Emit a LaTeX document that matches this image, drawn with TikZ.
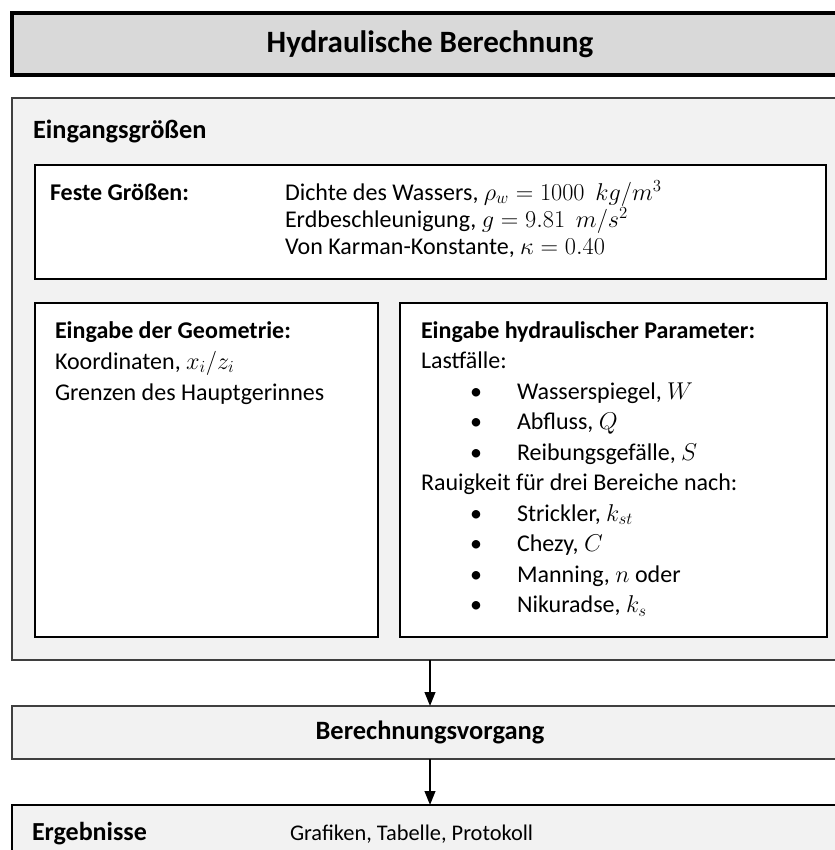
\documentclass[tikz,border=0pt]{standalone}
\usepackage{fontspec}
\setmainfont{Carlito}
\usetikzlibrary{arrows.meta}
\definecolor{titlegray}{HTML}{D9D9D9}
\definecolor{panelgray}{HTML}{F2F2F2}
\definecolor{framegray}{HTML}{3F3F3F}

\begin{document}
\begin{tikzpicture}[x=0.3mm, y=-0.3mm,
  every node/.style={font=\fontsize{20.5}{24}\selectfont, inner sep=0pt, outer sep=0pt},
  box/.style={rectangle, draw=black, line width=1.5pt, fill=white},
  panel/.style={rectangle, draw=framegray, line width=1.4pt, fill=panelgray},
  head/.style={font=\fontsize{20.5}{24}\selectfont\bfseries, anchor=base west},
  txt/.style={anchor=base west},
  arr/.style={line width=1.8pt, -{Triangle[length=4.2mm, width=3.2mm]}}]
  \useasboundingbox (0,0) rectangle (835,850);
  \clip (0,0) rectangle (835,850);
  % title bar
  \node[rectangle, draw=black, line width=3pt, fill=titlegray, minimum width=250.8mm,
    minimum height=18.6mm, font=\fontsize{26.5}{30}\selectfont\bfseries] (title) at (430,44) {Hydraulische Berechnung};
  % input block
  \node[panel, minimum width=250.8mm, minimum height=168.6mm] (eingang) at (430,379) {};
  \node[head, font=\fontsize{22.5}{26}\selectfont\bfseries] (eingtitle) at (33,138) {Eingangsgrößen};
  % fixed values
  \node[box, minimum width=237.3mm, minimum height=34.2mm] (feste) at (430.5,222) {};
  \node[head] (festetitle) at (50,200) {Feste Größen:};
  \node[txt] (dichte) at (285,200) {Dichte des Wassers, $\rho_w = 1000\;\, kg/m^3$};
  \node[txt] (erdb) at (285,227) {Erdbeschleunigung, $g = 9.81\;\, m/s^2$};
  \node[txt] (karman) at (285,254) {Von Karman-Konstante, $\kappa = 0.40$};
  % geometry
  \node[box, minimum width=102.9mm, minimum height=100.2mm] (geo) at (206.5,470) {};
  \node[head] (geotitle) at (55,338) {Eingabe der Geometrie:};
  \node[txt] (koord) at (55,369) {Koordinaten, $x_i/z_i$};
  \node[txt] (grenz) at (55,400) {Grenzen des Hauptgerinnes};
  % hydraulic parameters
  \node[box, minimum width=128.1mm, minimum height=100.2mm] (hyd) at (613.5,470) {};
  \node[head] (hydtitle) at (421,338) {Eingabe hydraulischer Parameter:};
  \node[txt] (last) at (421,368.5) {Lastfälle:};
  \foreach \t [count=\i] in {{Wasserspiegel, $W$}, {Abfluss, $Q$}, {Reibungsgefälle, $S$}} {
    \node[txt] (ldot\i) at (470,{368.5+30.5*\i}) {\textbullet};
    \node[txt] (lfall\i) at (517,{368.5+30.5*\i}) {\t};
  }
  \node[txt] (rauig) at (421,490.5) {Rauigkeit für drei Bereiche nach:};
  \foreach \t [count=\i] in {{Strickler, $k_{st}$}, {Chezy, $C$}, {Manning, $n$ oder}, {Nikuradse, $k_s$}} {
    \node[txt] (rdot\i) at (470,{490.5+30.5*\i}) {\textbullet};
    \node[txt] (rauh\i) at (517,{490.5+30.5*\i}) {\t};
  }
  % calculation and results
  \node[panel, minimum width=250.8mm, minimum height=15.9mm,
    font=\fontsize{22.6}{26}\selectfont\bfseries] (berech) at (430,732.5) {Berechnungsvorgang};
  \node[panel, draw=black, line width=2.2pt, minimum width=250.8mm, minimum height=18mm] (ergeb) at (430,835) {};
  \node[head, font=\fontsize{22.2}{26}\selectfont\bfseries] (ergtitle) at (32,840) {Ergebnisse};
  \node[txt, font=\fontsize{19.1}{22}\selectfont] (ergtext) at (290,840) {Grafiken, Tabelle, Protokoll};
  \draw[arr] (eingang.south) -- (berech.north);
  \draw[arr] (berech.south) -- (ergeb.north);
\end{tikzpicture}
\end{document}
